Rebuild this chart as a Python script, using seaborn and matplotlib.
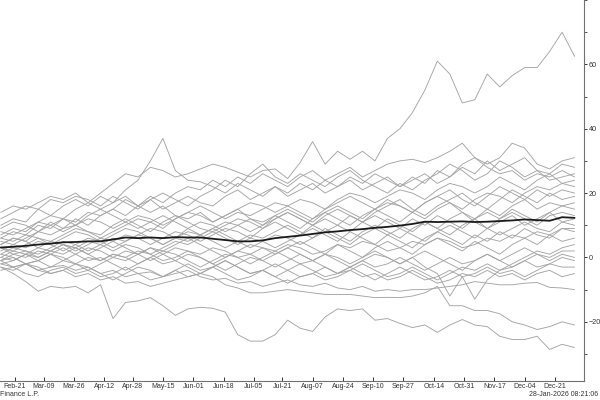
import pandas as pd
import matplotlib
matplotlib.use("Agg")
import matplotlib.pyplot as plt
from matplotlib.ticker import MultipleLocator
import seaborn as sns

# weekly observation dates
DATES = pd.date_range("2025-02-13", periods=47, freq="7D")

# grey paths, values (one value per week)
G01 = [7, 9, 8, 11, 13, 12, 15, 17, 20, 23,
       26, 25, 28, 27, 25, 26, 27.5, 29, 28, 26.5,
       25, 27, 27.5, 24.5, 29.5, 36, 29, 33, 30.5, 33,
       30, 37, 40, 45, 52, 61, 57, 48, 49, 57,
       53, 56.5, 59, 59, 64, 70, 62.5]
G02 = [10, 12, 11, 15, 13, 16, 18, 16, 19, 17,
       21, 24, 30, 37, 27, 24, 23.5, 22, 20, 23,
       21, 19, 22, 20, 23, 21, 24, 22, 25, 23,
       26, 24, 22, 25, 23, 27, 25, 29, 31, 28,
       26, 27, 24, 26, 25, 27, 25]
G03 = [6, 8, 7, 10, 9, 12, 11, 14, 13, 15,
       18, 16, 19, 17, 20, 22, 21, 24, 22, 25,
       23, 26, 24, 22, 25, 27, 24, 26, 28, 25,
       27, 29, 30, 30.5, 29.5, 31, 33, 35.5, 31, 29,
       31, 35.5, 34, 29, 27.5, 30, 31]
G04 = [4, 6, 5, 8, 11, 9, 12, 10, 13, 15,
       13, 16, 18, 15, 17, 19, 17, 16, 19, 21,
       18, 20, 22, 19, 21, 23, 20, 22, 24, 21,
       23, 25, 22, 24, 26, 23, 25, 28, 26, 30,
       27, 29, 31, 27, 26, 29, 28]
G05 = [12, 14, 16, 15, 18, 17, 19, 18, 16, 19,
       17, 15, 18, 20, 18, 16, 19, 21, 24, 22,
       26, 29, 25, 23, 26, 24, 22, 25, 27, 24,
       22, 20, 23, 21, 24, 26, 29, 27, 24, 26,
       30, 28, 25, 27, 24, 25, 26]
G06 = [3, 2, 4, 6, 5, 7, 9, 8, 6, 8,
       10, 12, 11, 9, 12, 14, 13, 11, 13, 15,
       17, 16, 14, 16, 18, 17, 15, 18, 20, 19,
       17, 19, 21, 20, 18, 21, 23, 22, 20, 22,
       25, 23, 21, 24, 26, 23, 24]
G07 = [1, 3, 2, 1, 3, 5, 4, 2, 4, 6,
       5, 7, 9, 8, 6, 9, 11, 10, 8, 10,
       12, 11, 13, 15, 13, 11, 14, 16, 14, 12,
       15, 17, 16, 14, 17, 19, 17, 15, 18, 20,
       19, 17, 20, 22, 21, 23, 22]
G08 = [8, 7, 9, 11, 10, 8, 10, 12, 11, 9,
       11, 13, 12, 10, 12, 14, 16, 14, 12, 14,
       13, 15, 17, 16, 14, 12, 15, 17, 19, 17,
       15, 18, 16, 14, 17, 19, 21, 18, 16, 19,
       22, 20, 18, 21, 19, 21, 20]
G09 = [5, 4, 6, 8, 7, 9, 10, 8, 7, 10,
       12, 10, 8, 11, 13, 11, 9, 8, 10, 12,
       11, 9, 12, 14, 12, 10, 13, 15, 13, 11,
       14, 16, 18, 15, 13, 16, 18, 20, 17, 15,
       18, 21, 19, 17, 20, 18, 19]
G10 = [14, 16, 15, 17, 19, 18, 20, 17, 15, 17,
       19, 16, 14, 16, 13, 12, 14, 11, 13, 15,
       12, 10, 13, 11, 9, 12, 14, 12, 10, 13,
       15, 13, 11, 14, 12, 15, 17, 14, 12, 15,
       13, 16, 18, 15, 17, 16, 17]
G11 = [0, -1, 1, 3, 2, 4, 3, 1, 3, 5,
       7, 6, 4, 6, 8, 7, 5, 7, 9, 8,
       6, 9, 11, 9, 7, 10, 12, 10, 8, 11,
       13, 11, 9, 12, 10, 13, 11, 9, 12, 14,
       12, 15, 13, 11, 14, 16, 15]
G12 = [9, 11, 10, 8, 10, 12, 10, 13, 15, 13,
       11, 9, 11, 13, 11, 9, 7, 9, 11, 10,
       8, 10, 12, 14, 12, 10, 8, 10, 13, 11,
       9, 12, 10, 8, 11, 9, 12, 14, 11, 9,
       12, 14, 12, 10, 13, 14, 13]
G13 = [2, 4, 3, 5, 4, 2, 4, 6, 5, 3,
       5, 7, 6, 4, 6, 8, 7, 5, 3, 5,
       7, 6, 8, 10, 8, 6, 9, 7, 5, 8,
       10, 8, 6, 9, 11, 9, 7, 10, 12, 9,
       11, 13, 10, 12, 14, 11, 12]
G14 = [-2, -1, 1, 0, 2, 1, 3, 5, 4, 2,
       4, 3, 1, 3, 5, 4, 6, 8, 6, 4,
       6, 5, 3, 5, 7, 9, 7, 5, 8, 6,
       4, 7, 9, 7, 5, 8, 10, 8, 6, 9,
       7, 9, 11, 9, 8, 11, 10]
G15 = [6, 5, 7, 6, 4, 6, 8, 7, 5, 7,
       9, 8, 6, 4, 6, 5, 7, 9, 7, 5,
       3, 5, 7, 6, 4, 6, 8, 6, 4, 7,
       9, 7, 5, 3, 6, 8, 6, 4, 7, 5,
       8, 6, 9, 7, 6, 9, 8]
G16 = [4, 6, 5, 3, 5, 4, 2, 4, 6, 5,
       3, 1, 3, 2, 4, 6, 4, 2, 0, 2,
       4, 3, 1, 3, 5, 3, 1, 4, 2, 0,
       3, 5, 3, 1, 4, 6, 4, 2, 5, 3,
       1, 4, 6, 4, 7, 5, 6]
G17 = [-1, 1, 0, 2, 1, -1, 1, 3, 2, 0,
       2, 1, -1, 1, 3, 2, 0, -2, 0, 2,
       1, -1, 1, 3, 1, -1, 1, 0, -2, 0,
       2, 0, -2, 0, -3, -5, -12, -6, -13, -7,
       -4, -2, 0, 2, 1, 3, 4]
G18 = [3, 1, 2, 0, 2, 4, 3, 1, -1, 1,
       0, -2, 0, 2, 1, -1, -3, -1, 1, 0,
       -2, 0, 2, 0, -2, -1, 1, -1, -3, -1,
       1, 0, -2, 0, 2, 0, -2, -4, -1, 1,
       -1, 1, 3, 1, 0, 2, 2]
G19 = [1, 0, -2, -1, 1, 0, -2, -4, -2, 0,
       -1, 1, 3, 1, -1, 1, 0, -2, -4, -2,
       0, -1, -3, -1, 1, -1, -3, -5, -3, -1,
       -3, -2, 0, -2, -4, -2, 0, -2, -1, 1,
       -1, -3, -1, 1, -1, 1, 0]
G20 = [-3, -4, -2, -3, -5, -4, -2, -3, -5, -7,
       -5, -3, -4, -6, -4, -2, -4, -3, -1, -3,
       -5, -4, -2, -4, -6, -5, -3, -5, -4, -2,
       -4, -6, -5, -3, -5, -7, -5, -3, -4, -2,
       -4, -3, -1, -3, -2, 0, -1]
G21 = [0, 2, 1, -1, 1, 3, 1, -1, 0, -2,
       -4, -2, 0, -2, -1, -3, -5, -3, -1, -3,
       -5, -4, -6, -4, -2, -4, -6, -5, -3, -5,
       -7, -5, -3, -5, -7, -6, -4, -6, -5, -3,
       -5, -4, -6, -4, -2, -3, -3]
G22 = [-4, -3, -5, -6, -4, -3, -5, -4, -6, -5,
       -3, -5, -7, -6, -4, -6, -5, -3, -5, -7,
       -6, -4, -6, -8, -6, -5, -7, -6, -4, -6,
       -5, -7, -6, -4, -6, -8, -7, -5, -6, -4,
       -6, -5, -7, -5, -4, -6, -5]
G23 = [-1, 0, -2, -1, -3, -2.5, -4, -3, -5, -4,
       -6, -5, -4.5, -6, -5, -4, -6, -7, -6.5, -8,
       -7.5, -9, -8, -7, -8.5, -9, -8, -9.5, -10, -9,
       -10.5, -10, -10.5, -10, -10, -9.5, -9, -8.5, -7.5, -8,
       -8.5, -8.5, -8, -7.8, -9.3, -9.5, -10]
G24 = [-2, -3, -2, -4, -5, -4, -6, -5, -7, -6,
       -8, -7.5, -9, -8, -7, -6, -5, -6, -8.5, -9.5,
       -11, -11, -10.5, -10, -10.5, -11, -11.5, -11.5, -11.5, -12,
       -12.5, -12.4, -12.5, -12, -11, -9, -15, -15, -16.5, -16.5,
       -17.5, -20, -21, -22.4, -21.5, -20, -21]
G25 = [-3, -5, -7.5, -10.5, -9, -9.5, -9, -11, -8.5, -19,
       -14, -13.5, -12.5, -15, -18, -16, -15.5, -15.8, -17, -24,
       -26, -26, -24, -19.5, -22, -23, -18.5, -16, -16.5, -16,
       -19.5, -19, -20.5, -21.8, -21, -23.3, -21, -19.3, -21, -21.5,
       -24.5, -25.5, -25.5, -24.5, -28.6, -27, -28]
G26 = [-1, -3, -2, -4, -3, -1, -2, 0, -1, 1,
       0, 2, 1, -1, 0, 2, 1, 3, 2, 0,
       1, 3, 2, 4, 3, 1, 2, 4, 3, 5,
       4, 2, 3, 5, 4, 6, 5, 3, 4, 6,
       5, 7, 6, 8, 7, 9, 9]

# black average line
MEAN = [3.1, 3.3, 3.6, 4.0, 4.3, 4.7, 4.8, 5.0, 5.0, 5.6,
        6.2, 6.0, 6.2, 6.0, 6.3, 6.2, 6.2, 5.8, 5.4, 5.0,
        5.0, 5.3, 6.0, 6.4, 6.8, 7.3, 7.8, 8.1, 8.5, 8.8,
        9.2, 9.5, 9.9, 10.4, 11.1, 11.0, 11.1, 11.2, 11.0, 11.1,
        11.3, 11.5, 11.8, 11.6, 11.4, 12.5, 12.3]

TICK_DATES = ["2025-02-21", "2025-03-09", "2025-03-26", "2025-04-12", "2025-04-28",
              "2025-05-15", "2025-06-01", "2025-06-18", "2025-07-05", "2025-07-21",
              "2025-08-07", "2025-08-24", "2025-09-10", "2025-09-27", "2025-10-14",
              "2025-10-31", "2025-11-17", "2025-12-04", "2025-12-21"]
TICK_LABELS = ["Feb-21", "Mar-09", "Mar-26", "Apr-12", "Apr-28", "May-15", "Jun-01",
               "Jun-18", "Jul-05", "Jul-21", "Aug-07", "Aug-24", "Sep-10", "Sep-27",
               "Oct-14", "Oct-31", "Nov-17", "Dec-04", "Dec-21"]

grey = [G01, G02, G03, G04, G05, G06, G07, G08, G09, G10, G11, G12, G13,
        G14, G15, G16, G17, G18, G19, G20, G21, G22, G23, G24, G25, G26]

rows = []
for k, vals in enumerate(grey):
    for d, v in zip(DATES, vals):
        rows.append({"series": k, "date": d, "value": v})
df = pd.DataFrame(rows)
mean_df = pd.DataFrame({"date": DATES, "value": MEAN})

sns.set_theme(style="white")
plt.rcParams["font.family"] = ["Liberation Sans", "DejaVu Sans"]

fig = plt.figure(figsize=(6, 4), dpi=100)
ax = fig.add_axes([0, 1 - 381 / 400, 584 / 600, 381 / 400])

sns.lineplot(data=df, x="date", y="value", units="series", estimator=None,
             color="#a4a4a4", linewidth=0.65, legend=False, ax=ax)
sns.lineplot(data=mean_df, x="date", y="value", color="#1a1a1a",
             linewidth=1.3, ax=ax)

ax.set_xlim(pd.Timestamp("2025-02-12 14:00"), pd.Timestamp("2026-01-06 07:00"))
ax.set_ylim(-38.4, 80)

ax.yaxis.tick_right()
ax.set_yticks([-20, 0, 20, 40, 60])
ax.yaxis.set_minor_locator(MultipleLocator(10))
ax.set_xticks(pd.to_datetime(TICK_DATES))
ax.set_xticklabels(TICK_LABELS)
ax.tick_params(axis="x", direction="in", length=3, width=0.7, labelsize=5,
               pad=1.5, colors="#333333", bottom=True)
ax.tick_params(axis="y", which="major", direction="out", length=2.5, width=0.7,
               labelsize=5.2, pad=1, colors="#333333", right=True, left=False)
ax.tick_params(axis="y", which="minor", direction="out", length=2, width=0.6,
               colors="#333333", right=True, left=False)
ax.set_xlabel("")
ax.set_ylabel("")
for s in ["left", "top"]:
    ax.spines[s].set_visible(False)
for s in ["bottom", "right"]:
    ax.spines[s].set_color("#707070")
    ax.spines[s].set_linewidth(0.8)

fig.text(0.0, 1 - 395 / 400, "Finance L.P.", ha="left", va="center",
         fontsize=5, color="#333333")
fig.text(598 / 600, 1 - 395 / 400, "28-Jan-2026 08:21:06", ha="right",
         va="center", fontsize=5, color="#333333")

fig.savefig("out.png", dpi=100)
plt.close(fig)
